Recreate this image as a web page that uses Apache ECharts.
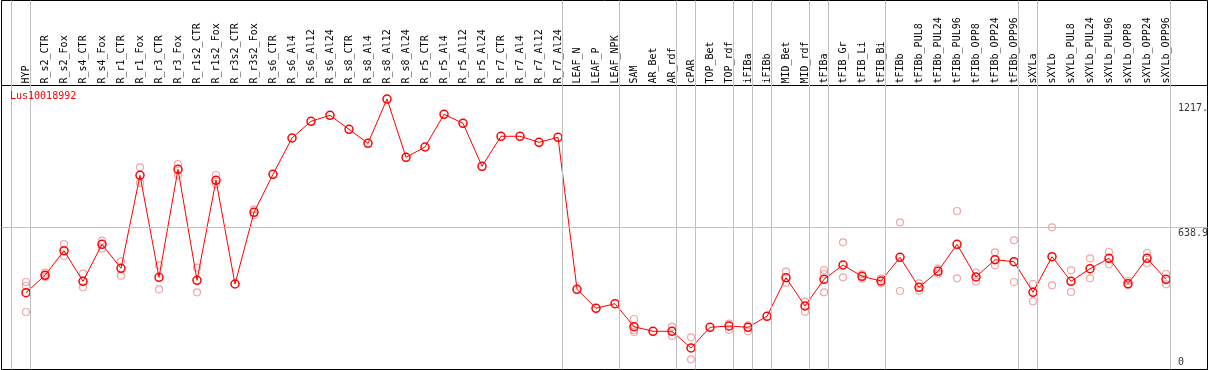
<!DOCTYPE html>
<html>
<head>
<meta charset="utf-8">
<script src="https://cdn.jsdelivr.net/npm/echarts@6/dist/echarts.min.js"></script>
<style>
  html, body { margin: 0; padding: 0; background: #fff; }
  #chart { width: 1209px; height: 370px; }
</style>
</head>
<body>
<div id="chart"></div>
<script>
var geneName = "Lus10018992";

var categories = ["HYP", "R_s2_CTR", "R_s2_Fox", "R_s4_CTR", "R_s4_Fox", "R_r1_CTR", "R_r1_Fox",
    "R_r3_CTR", "R_r3_Fox", "R_r1s2_CTR", "R_r1s2_Fox", "R_r3s2_CTR", "R_r3s2_Fox", "R_s6_CTR",
    "R_s6_Al4", "R_s6_Al12", "R_s6_Al24", "R_s8_CTR", "R_s8_Al4", "R_s8_Al12", "R_s8_Al24",
    "R_r5_CTR", "R_r5_Al4", "R_r5_Al12", "R_r5_Al24", "R_r7_CTR", "R_r7_Al4", "R_r7_Al12",
    "R_r7_Al24", "LEAF_N", "LEAF_P", "LEAF_NPK", "SAM", "AR_Bet", "AR_rdf", "cPAR", "TOP_Bet",
    "TOP_rdf", "iFIBa", "iFIBb", "MID_Bet", "MID_rdf", "tFIBa", "tFIB_Gr", "tFIB_Li", "tFIB_Bi",
    "tFIBb", "tFIBb_PUL8", "tFIBb_PUL24", "tFIBb_PUL96", "tFIBb_OPP8", "tFIBb_OPP24",
    "tFIBb_OPP96", "sXYLa", "sXYLb", "sXYLb_PUL8", "sXYLb_PUL24", "sXYLb_PUL96", "sXYLb_OPP8",
    "sXYLb_OPP24", "sXYLb_OPP96"];

// mean expression per sample
var means = [345.6, 423.8, 534.5, 396.8, 563.3, 455.3, 873.8, 414.8, 900.8, 401.3, 851.3,
    384.7, 707.3, 878.3, 1041.6, 1116.8, 1143.7, 1080.8, 1017.8, 1217.0, 954.8, 1001.1,
    1148.2, 1107.8, 914.3, 1049.3, 1049.3, 1022.3, 1044.8, 360.9, 275.4, 296.1, 192.6,
    171.9, 171.9, 96.7, 189.9, 195.7, 189.9, 239.4, 413.0, 285.7, 405.8, 470.2, 419.3,
    398.2, 504.8, 369.8, 441.8, 563.3, 416.2, 494.0, 485.0, 347.4, 507.5, 396.8, 453.5,
    500.3, 386.0, 500.3, 405.8];

// single replicates per sample
var replicates = [
    [393.7, 375.7, 258.7], [435.5, 425.0, 416.0], [564.7, 510.7], [431.0, 370.0],
    [579.5, 543.5], [486.8, 422.0], [909.8, 839.0], [468.8, 360.9], [924.6, 873.8],
    [458.0, 347.4], [875.1, 834.6], [], [720.8, 693.8], [], [], [], [], [], [], [], [],
    [], [], [], [], [], [], [], [], [], [], [],
    [227.2, 177.7, 168.7], [], [192.6, 150.7], [144.9, 45.9], [], [206.1, 177.7],
    [198.9, 171.9], [], [440.0, 390.5], [305.1, 260.1], [447.7, 429.7, 347.4],
    [572.3, 414.8], [429.7, 408.5], [408.5, 387.8], [662.3, 353.2], [387.8, 354.6],
    [453.5, 431.0], [713.2, 410.3], [435.5, 395.0], [527.3, 468.8], [581.3, 393.7],
    [384.7, 306.9], [639.8, 378.8], [446.3, 348.7], [500.3, 410.3], [528.7, 473.3],
    [398.2, 380.2], [524.2, 477.8], [429.7, 383.3]];

// index of the last sample in each group (gray separators)
var groupEnds = [-1, 0, 28, 31, 34, 35, 37, 38, 39, 41, 42, 45, 52, 53, 60];

// y tick labels
var yTickValues = [0, 638.9, 1217.0];
var yTickLabels = ["0", "638.9", "1217."];

var yMax = 1277.85;
var xMin = -1.2895, xMax = 62.184;
var sepOffset = 0.2368;
var labelX = 60.63;
var mono = "DejaVu Sans Mono";

var chart = echarts.init(document.getElementById("chart"));

var meanData = means.map(function (v, i) { return [i, v]; });
var repData = [];
replicates.forEach(function (reps, i) {
    reps.forEach(function (v) { repData.push([i, v]); });
});
var sepLines = groupEnds.map(function (g) { return { xAxis: g + sepOffset }; });
var tickData = yTickValues.map(function (v, i) {
    var bottom = i === 0;
    return {
        value: [labelX, v],
        label: {
            formatter: yTickLabels[i],
            position: bottom ? [0, -2] : [0, i === 2 ? 4 : 1],
            verticalAlign: bottom ? "bottom" : "top"
        }
    };
});

var option = {
    animation: false,
    backgroundColor: "#fff",
    title: {
        text: geneName, left: 10, top: 91, padding: 0,
        textStyle: { color: "#ff0000", fontFamily: mono, fontSize: 10, fontWeight: "normal" }
    },
    grid: [
        { left: 1.5, right: 1.5, top: 0.5, bottom: 0.5, show: true, borderColor: "#000", borderWidth: 1 },
        { left: 16.5, right: 33.5, top: 0.5, height: 85 },
        { left: 1.5, right: 1.5, top: 85.5, bottom: 0.5, show: true, borderColor: "#000", borderWidth: 1 }
    ],
    xAxis: [
        { gridIndex: 0, type: "value", min: xMin, max: xMax, show: false },
        {
            gridIndex: 1, type: "category", data: categories, position: "bottom",
            axisLine: { show: false }, axisTick: { show: false },
            axisLabel: { inside: true, rotate: 90, interval: 0, margin: 2, color: "#000", fontFamily: mono, fontSize: 10 }
        },
        { gridIndex: 2, type: "value", min: xMin, max: xMax, show: false }
    ],
    yAxis: [
        { gridIndex: 0, type: "value", min: 0, max: 1, show: false },
        { gridIndex: 1, type: "value", min: 0, max: 1, show: false },
        { gridIndex: 2, type: "value", min: 0, max: yMax, show: false }
    ],
    series: [
        {
            type: "line", xAxisIndex: 0, yAxisIndex: 0, data: [], silent: true,
            markLine: {
                silent: true, symbol: "none", label: { show: false },
                lineStyle: { color: "#c0c0c0", width: 1, type: "solid" },
                data: sepLines
            }
        },
        {
            type: "scatter", xAxisIndex: 2, yAxisIndex: 2, data: repData, silent: true,
            symbol: "circle", symbolSize: 7,
            itemStyle: { color: "transparent", borderColor: "#ec9090", borderWidth: 1.2 },
            markLine: {
                silent: true, symbol: "none", label: { show: false },
                lineStyle: { color: "#c0c0c0", width: 1, type: "solid" },
                data: [{ yAxis: yTickValues[1] }]
            }
        },
        {
            type: "line", xAxisIndex: 2, yAxisIndex: 2, data: meanData, silent: true,
            symbol: "circle", symbolSize: 8,
            lineStyle: { color: "#ff0000", width: 1 },
            itemStyle: { color: "transparent", borderColor: "#ff0000", borderWidth: 1.5 }
        },
        {
            type: "scatter", xAxisIndex: 2, yAxisIndex: 2, data: tickData, silent: true,
            symbolSize: 0,
            label: { show: true, align: "left", color: "#000", fontFamily: mono, fontSize: 10 }
        }
    ]
};
chart.setOption(option);
</script>
</body>
</html>
